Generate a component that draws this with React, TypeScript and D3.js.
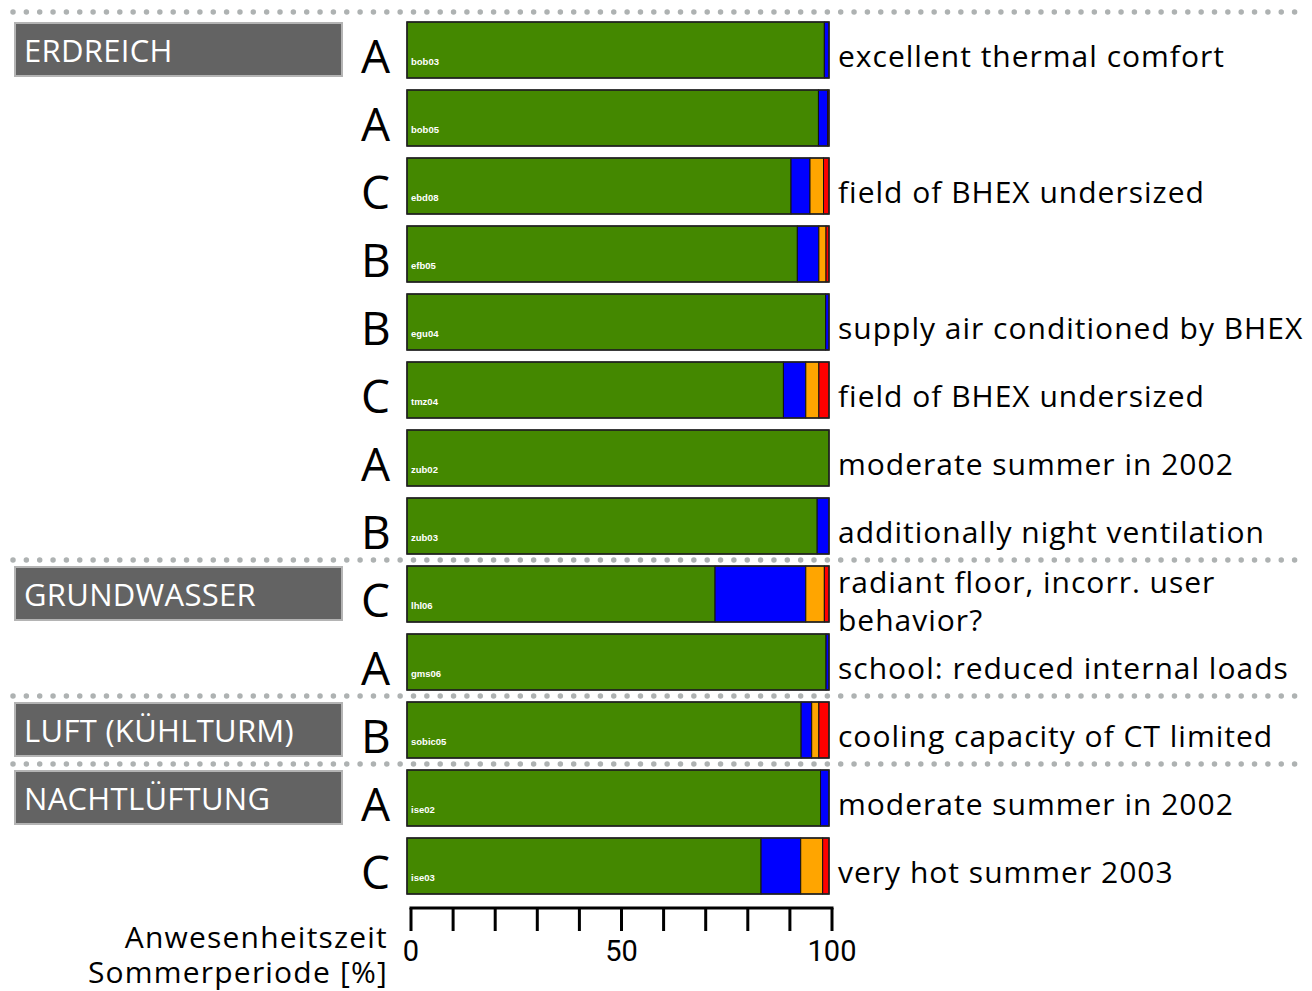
import React from "react";
import * as d3 from "d3";

const sites = ["bob03","bob05","ebd08","efb05","egu04","tmz04","zub02","zub03","lhl06","gms06","sobic05","ise02","ise03"];
const grades = ["A","A","C","B","B","C","A","B","C","A","B","A","C"];
const greenVals = [98.9, 97.5, 91.0, 92.5, 99.2, 89.2, 100, 97.2, 73.0, 99.3, 93.4, 98.0, 83.9];
const blueVals = [1.1, 2.2, 4.5, 5.1, 0.8, 5.3, 0, 2.8, 21.5, 0.7, 2.5, 2.0, 9.4];
const orangeVals = [0, 0, 3.2, 1.7, 0, 3.1, 0, 0, 4.4, 0, 1.7, 0, 5.2];
const redVals = [0, 0.3, 1.3, 0.7, 0, 2.4, 0, 0, 1.1, 0, 2.4, 0, 1.5];
const notes: string[][] = [
  ["excellent thermal comfort"],
  [],
  ["field of BHEX undersized"],
  [],
  ["supply air conditioned by BHEX"],
  ["field of BHEX undersized"],
  ["moderate summer in 2002"],
  ["additionally night ventilation"],
  ["radiant floor, incorr. user", "behavior?"],
  ["school: reduced internal loads"],
  ["cooling capacity of CT limited"],
  ["moderate summer in 2002"],
  ["very hot summer 2003"],
];
const groups = [
  { name: "ERDREICH", first: 0 },
  { name: "GRUNDWASSER", first: 8 },
  { name: "LUFT (KÜHLTURM)", first: 10 },
  { name: "NACHTLÜFTUNG", first: 11 },
];
const seriesKeys = ["green", "blue", "orange", "red"];
const seriesColors = ["#448800", "#0000ff", "#ffa500", "#ff0000"];
const axisTicks = [0, 10, 20, 30, 40, 50, 60, 70, 80, 90, 100];
const axisLabels = [0, 50, 100];
const axisTitle = ["Anwesenheitszeit", "Sommerperiode [%]"];

const W = 1312, H = 991;
const FONT = "'Open Sans', sans-serif";

export default function App() {
  const table = sites.map((s, i) => ({
    site: s,
    green: greenVals[i],
    blue: blueVals[i],
    orange: orangeVals[i],
    red: redVals[i],
  }));
  const stack = d3.stack<any>().keys(seriesKeys)(table);
  const y = d3.scaleBand<string>().domain(sites).range([22, 894]).paddingInner(12 / 68).paddingOuter(0);
  const x = d3.scaleLinear().domain([0, 100]).range([407, 829]);
  const xa = d3.scaleLinear().domain([0, 100]).range([411, 832]);
  const bw = y.bandwidth();
  const axisY = 908;

  return (
    <svg width={W} height={H} style={{ position: "absolute", left: 0, top: 0, background: "#fff" }}>
      {/* separators */}
      {groups.map((g, gi) => {
        const yy = (y(sites[g.first]) as number) - (gi === 0 ? 10 : 6);
        return (
          <line key={"sep" + gi} x1={13} x2={1300} y1={yy} y2={yy}
            stroke="#aeb2b2" strokeWidth={5.5} strokeLinecap="round" strokeDasharray="0 13.35" />
        );
      })}
      {/* group boxes */}
      {groups.map((g, gi) => {
        const top = (y(sites[g.first]) as number) + 1;
        return (
          <g key={"grp" + gi}>
            <rect x={15} y={top} width={327} height={53} fill="#636363" stroke="#b4b4b4" strokeWidth={2} />
            <text x={24} y={top + 39} fill="#fff" fontFamily={FONT} fontSize={31} letterSpacing={0.3}>{g.name}</text>
          </g>
        );
      })}
      {/* bars */}
      {sites.map((s, i) => {
        const top = y(s) as number;
        return (
          <g key={"bar" + s}>
            {stack.map((layer, li) => {
              const d = layer[i];
              if (d[1] - d[0] <= 0) return null;
              return (
                <rect key={li} x={x(d[0])} y={top} width={x(d[1]) - x(d[0])} height={bw}
                  fill={seriesColors[li]} stroke="#111" strokeWidth={1} />
              );
            })}
            <rect x={x(0)} y={top} width={x(100) - x(0)} height={bw} fill="none" stroke="#222" strokeWidth={1.5} />
            <text x={x(0) + 4} y={top + 43} fill="#fff" fontFamily="'Liberation Sans', Arial, sans-serif" fontWeight="bold" fontSize={9.5}>{s}</text>
            <text x={361} y={top + 51} fill="#000" fontFamily={FONT} fontSize={46}>{grades[i]}</text>
            {notes[i].map((t, ti) => {
              const n = notes[i].length;
              const base = n === 1 ? top + 45 : top + 27 + ti * 38;
              return (
                <text key={ti} x={838} y={base} fill="#000" fontFamily={FONT} fontSize={30} letterSpacing={1}>{t}</text>
              );
            })}
          </g>
        );
      })}
      {/* axis */}
      <line x1={xa(0)} x2={xa(100)} y1={axisY} y2={axisY} stroke="#000" strokeWidth={3} strokeLinecap="square" />
      {axisTicks.map((t) => (
        <line key={"t" + t} x1={xa(t)} x2={xa(t)} y1={axisY} y2={axisY + 23} stroke="#000" strokeWidth={3} />
      ))}
      {axisLabels.map((t) => (
        <text key={"l" + t} x={xa(t)} y={961} textAnchor="middle" fontFamily="Roboto, sans-serif" fontSize={29} fill="#000">{t}</text>
      ))}
      {axisTitle.map((t, i) => (
        <text key={"at" + i} x={388} y={948 + i * 35} textAnchor="end" fontFamily={FONT} fontSize={30} letterSpacing={1.2} fill="#000">{t}</text>
      ))}
    </svg>
  );
}
